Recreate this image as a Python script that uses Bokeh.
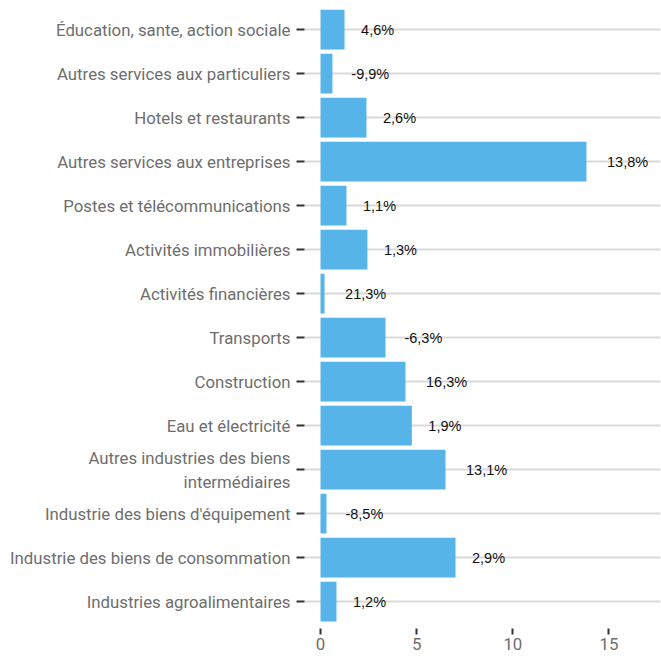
from bokeh.plotting import figure
from bokeh.models import ColumnDataSource, Range1d, FixedTicker
from bokeh.core.properties import value
from bokeh.embed import file_html
from bokeh.resources import INLINE

# Data (top to bottom as displayed)
categories = [
    "Éducation, sante, action sociale",
    "Autres services aux particuliers",
    "Hotels et restaurants",
    "Autres services aux entreprises",
    "Postes et télécommunications",
    "Activités immobilières",
    "Activités financières",
    "Transports",
    "Construction",
    "Eau et électricité",
    "Autres industries des biens\nintermédiaires",
    "Industrie des biens d'équipement",
    "Industrie des biens de consommation",
    "Industries agroalimentaires",
]
values = [1.25, 0.62, 2.39, 13.83, 1.35, 2.44, 0.21, 3.38, 4.42, 4.75, 6.5, 0.31, 7.02, 0.83]
growth_labels = ["4,6%", "-9,9%", "2,6%", "13,8%", "1,1%", "1,3%", "21,3%", "-6,3%",
                 "16,3%", "1,9%", "13,1%", "-8,5%", "2,9%", "1,2%"]
x_ticks = [0, 5, 10, 15]

n = len(categories)
ypos = [n - i for i in range(n)]

# approximate label widths (Arial em widths) to mimic hjust=-0.5
LABEL_PX = 14.5
em = {c: 0.556 for c in "0123456789"}
em.update({",": 0.278, "%": 0.889, "-": 0.333})
offsets = [0.5 * sum(em.get(c, 0.556) for c in s) * LABEL_PX for s in growth_labels]

src = ColumnDataSource(dict(y=ypos, v=values, lab=growth_labels, off=offsets))

p = figure(width=661, height=657, output_backend="svg", toolbar_location=None,
           x_range=Range1d(-0.832, 17.68), y_range=Range1d(0.39, 14.57),
           min_border_left=304, min_border_right=1, min_border_top=4, min_border_bottom=29)
p.outline_line_color = None
p.background_fill_color = "white"
p.border_fill_color = "white"

p.hbar(y="y", left=0, right="v", height=0.9, source=src, fill_color="#56B4E9", line_color=None)
p.text(x="v", y="y", text="lab", x_offset="off", source=src, text_align="left",
       text_baseline="middle", text_font=value("Liberation Sans"),
       text_font_size=f"{LABEL_PX}px", text_color="#111111")

p.xgrid.grid_line_color = None
p.ygrid.ticker = FixedTicker(ticks=ypos)
p.ygrid.grid_line_color = "#D9D9D9"
p.ygrid.grid_line_width = 2

p.yaxis.ticker = FixedTicker(ticks=ypos)
p.yaxis.major_label_overrides = {y: c for y, c in zip(ypos, categories)}
p.xaxis.ticker = FixedTicker(ticks=x_ticks)

for ax in (p.xaxis, p.yaxis):
    ax.axis_line_color = None
    ax.minor_tick_line_color = None
    ax.major_tick_in = 0
    ax.major_tick_out = 6
    ax.major_tick_line_color = "#333333"
    ax.major_tick_line_width = 2
    ax.major_label_text_font = "Roboto"
    ax.major_label_text_font_size = "16.8px"
    ax.major_label_text_color = "#6e6e6e"
p.yaxis.major_tick_out = 8
p.yaxis.major_label_standoff = 6
p.xaxis.major_label_standoff = 3

open("out.html", "w").write(file_html(p, INLINE))
